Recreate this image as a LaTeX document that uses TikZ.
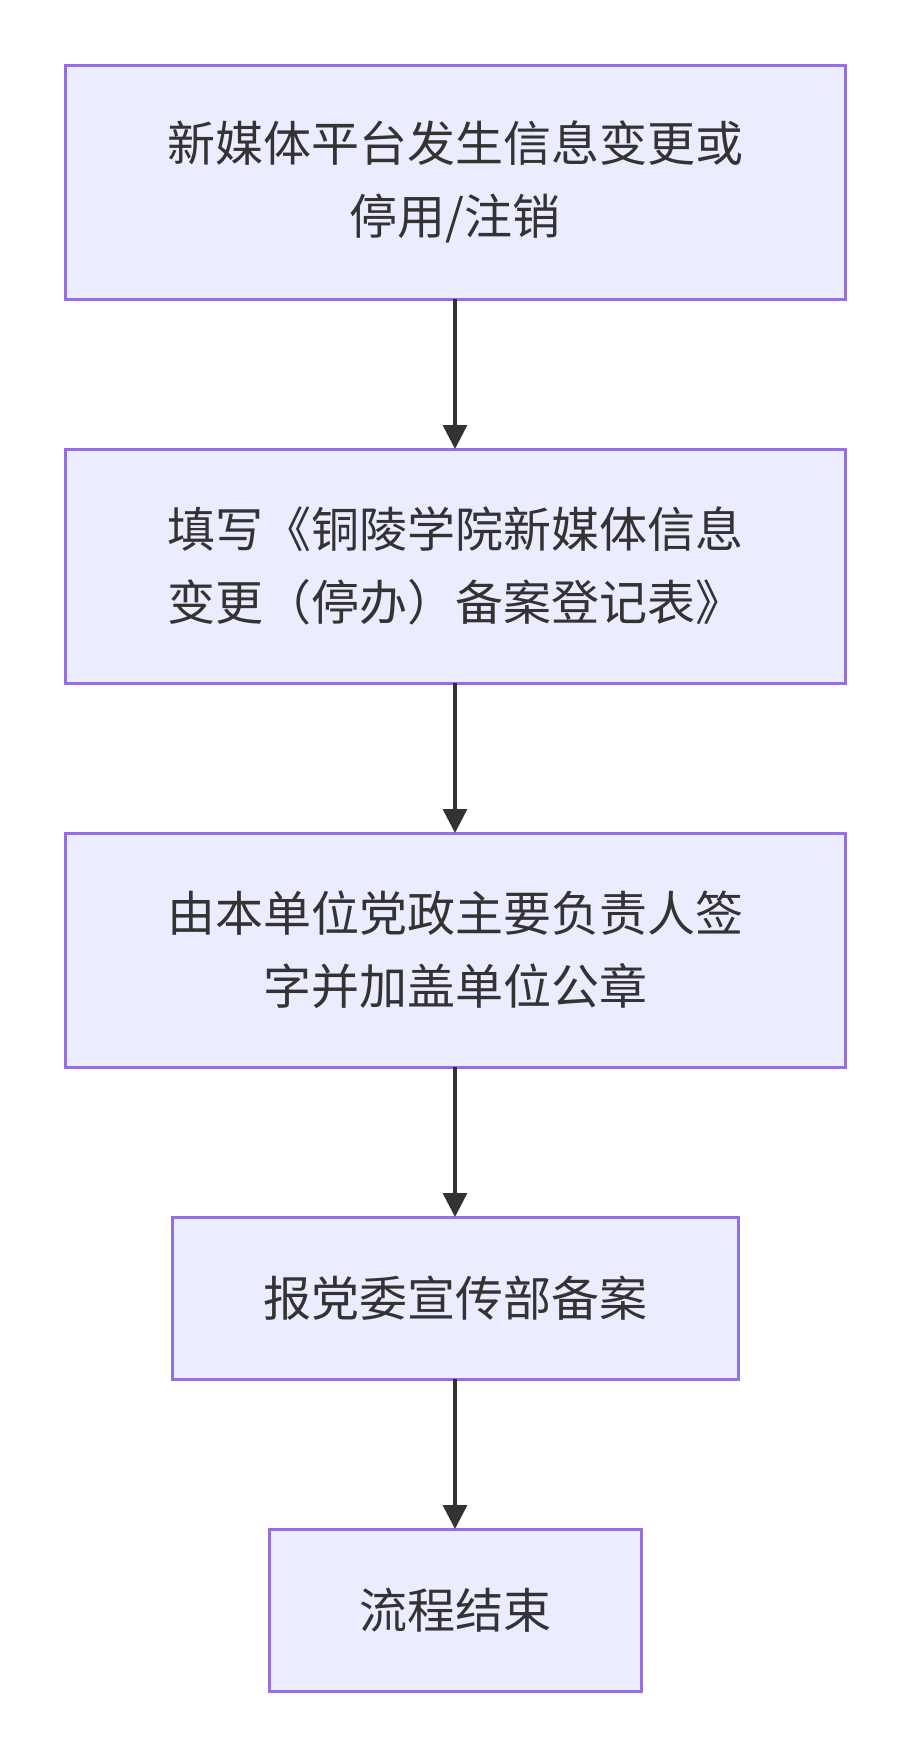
\documentclass[tikz,border=0pt]{standalone}
\usepackage{fontspec}
\newfontfamily\cjk{Noto Sans CJK SC}
\usetikzlibrary{arrows.meta}
\definecolor{boxfill}{HTML}{ECECFF}
\definecolor{boxline}{HTML}{9370DB}
\definecolor{ink}{HTML}{333333}
\tikzset{
  flowbox/.style={draw=boxline, fill=boxfill, line width=3pt, rectangle, inner sep=0pt, outer sep=0pt,
    align=center, text=ink, font=\cjk\fontsize{48}{73}\selectfont},
  flowarrow/.style={draw=ink, line width=3.5pt, -{Triangle[length=24pt,width=24pt]}}
}
\begin{document}
\begin{tikzpicture}[x=1pt,y=-1pt]
\useasboundingbox (0,0) rectangle (910,1756);
\node[flowbox, minimum width=780pt, minimum height=234pt] (n1) at (455,182) {新媒体平台发生信息变更或\\停用/注销};
\node[flowbox, minimum width=780pt, minimum height=234pt] (n2) at (455,566) {填写《铜陵学院新媒体信息\\变更（停办）备案登记表》};
\node[flowbox, minimum width=780pt, minimum height=234pt] (n3) at (455,950) {由本单位党政主要负责人签\\字并加盖单位公章};
\node[flowbox, minimum width=566pt, minimum height=162pt] (n4) at (455,1298) {报党委宣传部备案};
\node[flowbox, minimum width=372pt, minimum height=162pt] (n5) at (455,1610) {流程结束};
\draw[flowarrow] (n1.south) -- (n2.north);
\draw[flowarrow] (n2.south) -- (n3.north);
\draw[flowarrow] (n3.south) -- (n4.north);
\draw[flowarrow] (n4.south) -- (n5.north);
\end{tikzpicture}
\end{document}
